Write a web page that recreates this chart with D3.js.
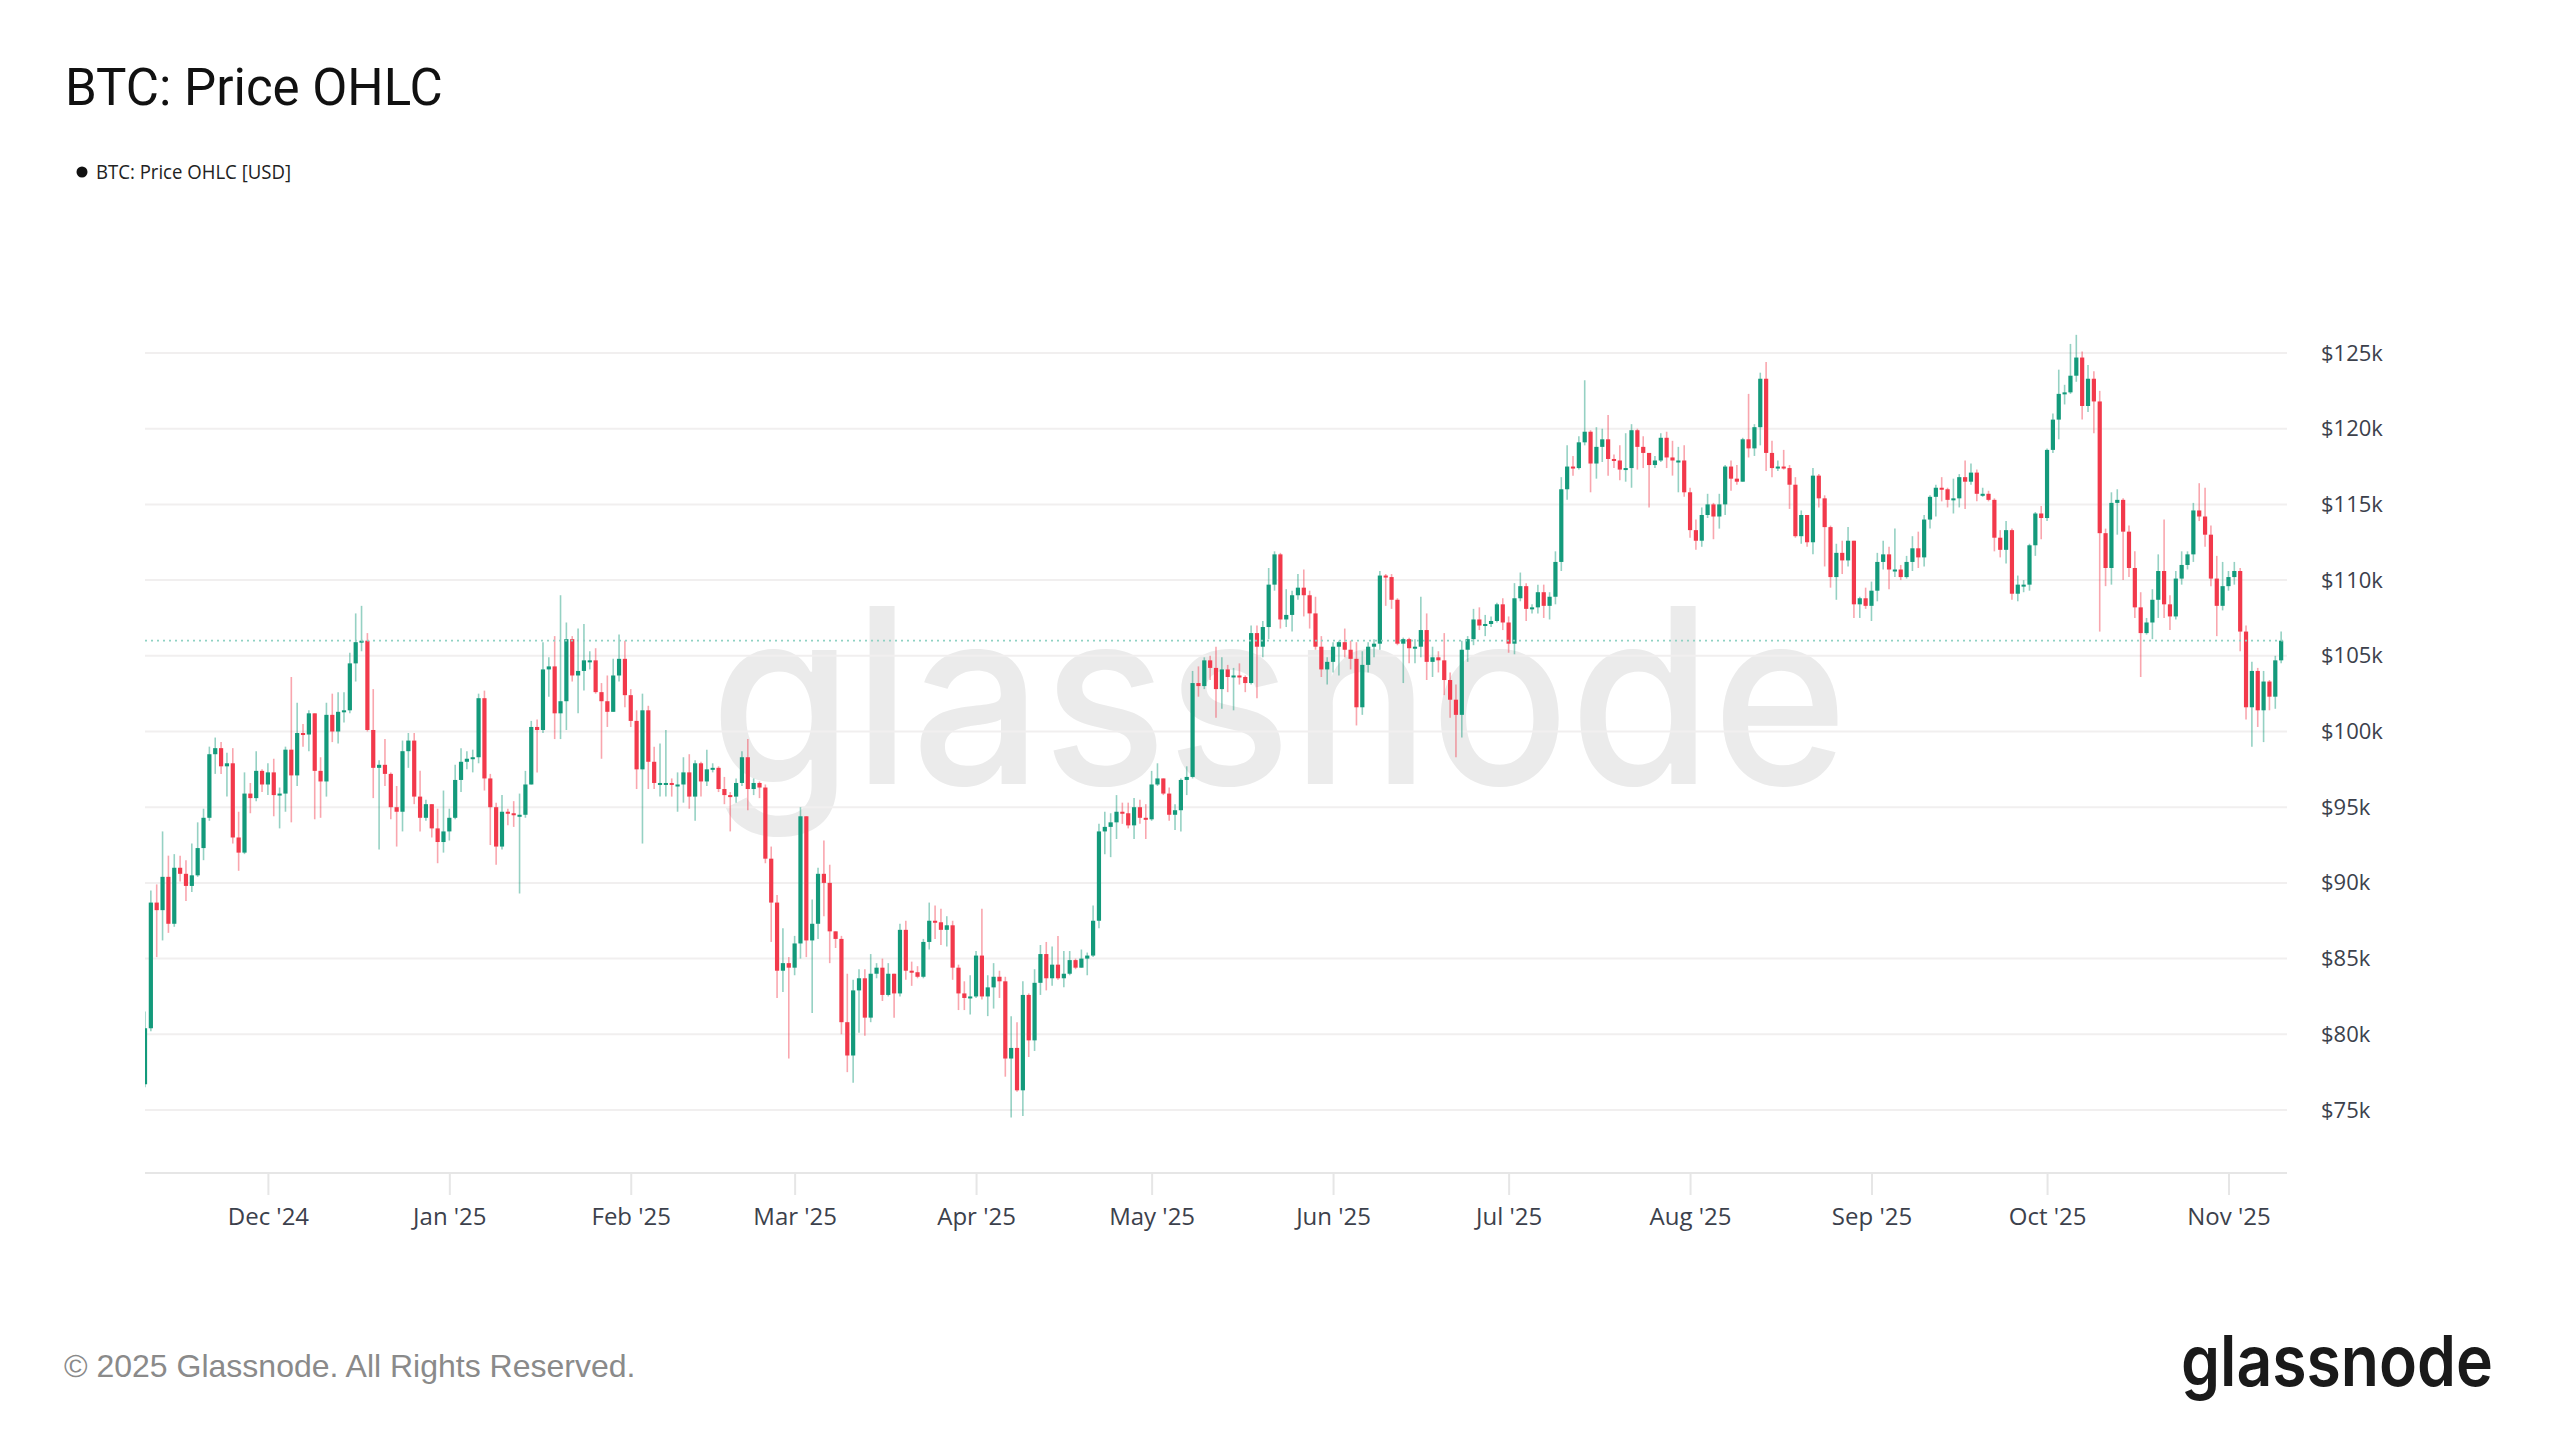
<!DOCTYPE html>
<html><head><meta charset="utf-8">
<script src="https://cdn.jsdelivr.net/npm/d3@7"></script>
<style>html,body{margin:0;padding:0;background:#fff;} svg{display:block;}</style>
</head><body>
<script>
// ---------- DATA (BTC daily OHLC, thousands of USD) ----------
const firstDay = "2024-11-10";
const opens = [76.7,
80.4,88.7,88.2,90.4,87.3,91.0,90.6,89.8,90.5,92.3,94.3,98.5,98.9,97.7,97.9,93.0,92.0,95.9,95.6,97.4,96.5,
97.3,95.8,95.9,98.8,97.1,99.9,99.8,101.2,97.4,96.7,101.1,100.0,101.3,101.4,104.5,105.9,106.0,100.1,97.6,97.8,97.2,95.0,94.7,98.7,99.4,95.7,94.3,95.2,93.6,92.7,93.4,
94.3,96.8,98.0,98.2,98.3,102.2,96.9,95.0,92.4,94.7,94.6,94.5,94.5,96.5,100.3,100.1,104.1,104.3,101.2,102.0,106.1,103.7,104.0,104.7,104.7,102.6,102.0,101.3,103.7,104.8,102.4,
100.7,97.5,101.4,98.0,96.6,96.6,96.6,96.5,96.5,97.3,95.7,97.9,96.7,97.5,97.6,96.2,95.8,95.7,96.6,98.3,96.2,96.6,96.3,91.6,88.7,84.2,84.7,84.4,
86.0,94.4,86.2,87.3,90.6,90.0,86.8,86.3,80.8,78.6,82.9,83.7,81.1,84.0,84.4,82.6,84.0,82.7,86.9,84.2,84.1,83.8,86.1,87.5,87.4,86.9,87.2,84.4,82.7,82.4,82.5,
85.2,82.5,83.1,83.8,83.5,78.4,79.1,76.3,82.6,79.6,83.4,85.3,83.7,84.6,83.7,84.0,84.9,84.4,85.0,85.2,87.5,93.4,93.7,94.0,94.7,94.6,93.8,95.0,94.3,94.2,
96.5,96.9,95.9,94.5,94.8,96.8,97.0,103.2,103.0,104.7,104.2,102.8,104.1,103.6,103.7,103.6,103.2,106.5,105.6,106.9,109.7,111.7,107.4,107.7,109.0,109.5,109.0,107.8,105.6,104.1,104.6,
105.6,105.9,105.4,104.8,101.6,104.4,105.6,105.8,110.3,110.2,108.7,105.8,106.1,105.5,105.6,106.7,104.6,104.9,104.7,103.4,102.1,101.1,105.4,106.1,107.4,107.0,107.1,107.3,108.4,107.2,
105.8,108.8,109.6,108.1,108.2,109.2,108.3,108.9,111.2,116.0,117.5,117.4,119.1,119.8,117.7,118.8,119.3,118.0,117.9,117.3,117.4,119.9,118.8,118.4,117.6,117.9,119.4,118.1,117.9,117.9,115.8,
113.3,112.6,114.3,115.0,114.2,115.0,117.5,116.7,116.5,119.3,118.7,120.1,123.3,118.4,117.4,117.5,117.4,116.3,112.9,114.3,112.5,116.9,115.4,113.5,110.2,111.8,111.3,112.6,108.4,108.8,108.3,
109.3,111.2,111.7,110.7,110.7,110.2,111.2,112.1,111.5,114.0,115.5,116.1,116.0,115.3,115.4,116.8,116.5,117.1,115.7,115.7,115.3,112.8,112.0,113.3,109.1,109.7,109.7,112.3,114.4,114.1,
118.6,120.6,122.3,122.4,123.5,124.7,121.5,123.3,121.8,113.1,110.8,115.1,115.3,113.2,110.8,108.2,106.5,107.2,108.7,110.6,108.4,107.6,110.1,111.0,111.7,114.6,114.2,113.0,110.1,108.3,109.6,
110.2,110.6,106.6,101.6,104.0,101.4,103.3,102.3,104.7];

const highs = [
81.5,89.5,89.9,93.4,91.8,91.9,91.8,91.5,92.6,94.0,94.9,99.0,99.6,99.3,98.6,98.9,94.7,97.3,96.6,98.7,97.5,
97.9,98.2,96.3,99.0,103.6,101.9,100.5,101.4,101.2,98.3,101.9,102.5,102.6,102.6,105.2,107.8,108.3,106.5,102.8,98.1,99.5,97.3,96.4,99.4,99.9,99.9,97.4,95.5,95.2,94.9,96.1,
94.9,97.8,98.9,98.7,98.8,102.5,102.7,97.2,95.3,95.8,94.9,95.4,95.9,97.4,100.7,100.8,105.9,104.9,106.3,109.0,107.2,106.3,106.8,107.1,105.3,105.5,103.2,103.7,104.8,106.4,106.0,
102.8,101.4,102.5,101.7,99.0,99.2,100.1,96.9,97.3,98.3,98.5,98.1,98.0,98.8,97.9,97.7,97.0,96.0,96.9,98.7,99.5,96.9,96.7,96.5,92.4,89.2,87.0,85.1,
86.5,95.0,94.4,88.9,91.0,92.8,91.2,86.8,86.5,84.0,83.6,84.3,84.3,85.3,84.7,85.0,84.7,84.0,87.3,87.5,84.8,84.5,86.3,88.7,88.5,88.3,87.8,87.5,84.6,83.5,83.9,
85.5,88.3,83.9,84.7,84.2,83.8,81.2,80.8,83.5,82.7,84.3,85.9,86.1,85.8,86.5,85.5,85.5,85.0,85.6,85.4,88.5,93.9,94.7,94.6,95.8,95.3,95.3,95.6,95.5,95.2,
97.4,97.9,96.9,96.3,95.2,96.9,97.7,104.0,104.3,104.9,105.0,105.6,104.9,104.4,104.2,104.5,103.7,107.0,107.0,107.3,110.8,111.9,111.8,109.4,109.3,110.4,110.7,109.3,108.9,106.3,104.9,
105.9,106.0,106.8,106.0,105.9,105.3,105.9,106.1,110.6,110.4,110.4,108.8,106.2,106.2,106.1,108.9,107.8,105.6,105.3,106.5,103.9,103.1,106.0,106.3,108.1,108.2,107.7,107.6,108.5,108.8,
107.6,109.8,110.5,109.8,108.4,109.7,109.7,109.2,111.9,116.8,118.9,118.2,119.5,123.2,119.9,120.1,120.0,120.9,118.3,118.9,119.7,120.3,120.0,119.5,118.4,118.2,119.7,119.8,119.2,118.8,118.9,
116.1,114.0,114.8,115.7,115.1,115.7,117.6,117.9,117.6,119.4,122.3,120.3,123.7,124.4,119.2,117.9,118.6,117.6,116.8,114.6,114.3,117.4,117.0,115.6,113.6,112.4,112.6,113.5,112.6,108.9,109.5,
109.9,111.8,112.6,112.2,113.4,111.0,111.6,112.9,113.2,114.3,115.6,116.3,116.8,116.1,116.7,117.0,117.9,117.7,117.3,116.1,115.9,115.4,113.3,113.9,113.4,110.3,110.0,112.4,114.5,114.9,
118.7,121.0,123.9,122.9,125.6,126.2,125.1,124.2,123.8,122.5,113.4,115.8,116.0,115.4,113.6,111.9,109.2,107.5,109.4,111.7,114.0,109.0,110.6,111.9,111.9,115.1,116.4,116.1,113.6,111.6,111.2,
110.6,111.2,110.8,107.0,104.6,104.2,104.0,103.4,105.0,106.6];

const lows = [
76.5,80.2,85.1,86.2,86.7,87.1,90.1,88.8,89.4,90.4,91.5,94.1,97.2,97.2,95.7,92.6,90.8,91.9,94.6,95.4,96.0,
95.8,94.4,93.6,94.7,94.0,96.4,99.0,98.7,94.2,94.3,95.7,99.3,99.2,100.6,101.2,103.3,105.3,100.0,95.6,92.2,96.4,94.2,92.4,93.4,97.6,95.2,93.4,94.1,93.0,91.3,92.0,
92.8,94.2,96.0,97.5,97.3,97.9,96.1,92.5,91.2,92.2,93.8,93.7,89.3,94.3,96.5,97.3,99.9,102.3,99.5,99.5,100.1,103.3,101.2,102.7,104.1,102.5,98.2,100.3,101.3,103.3,101.6,
100.3,96.2,92.6,96.2,96.2,95.7,95.7,95.7,94.7,95.3,94.9,94.1,95.7,96.4,97.3,96.0,95.2,93.4,95.3,96.4,94.8,95.8,95.6,91.3,86.1,82.4,82.8,78.4,
83.9,85.0,85.1,81.4,86.3,87.8,84.7,85.7,80.0,77.5,76.8,80.1,79.9,80.8,83.7,82.2,82.5,81.1,82.5,83.6,83.2,83.7,83.7,85.6,86.3,85.9,85.8,83.6,81.6,81.6,81.3,
82.4,82.3,81.2,81.7,82.4,77.2,74.5,76.2,74.6,78.5,78.9,82.6,82.9,83.2,83.6,83.1,83.9,84.3,84.4,83.9,85.1,87.0,91.9,91.7,92.9,93.9,93.6,92.9,93.9,92.9,
94.1,96.4,95.8,94.1,93.5,93.4,95.8,96.9,102.3,102.8,103.4,100.9,101.5,102.6,101.4,103.1,102.6,103.1,102.2,104.9,106.1,109.3,106.8,106.9,106.6,108.7,107.6,106.8,105.4,103.6,103.1,
103.9,103.7,104.9,104.1,100.4,101.1,103.9,104.9,105.4,108.3,108.1,105.7,103.2,104.5,104.5,104.9,103.4,103.6,103.9,102.4,100.9,98.3,99.6,104.6,105.7,106.7,106.3,106.9,107.2,106.7,
105.2,105.1,108.6,107.3,107.8,107.8,107.5,107.4,108.4,110.6,115.3,116.9,117.3,118.9,115.8,116.7,117.8,116.9,117.4,116.6,116.5,116.1,117.3,117.4,114.8,117.4,117.8,117.4,116.9,115.8,115.5,
112.8,112.0,112.2,114.1,112.7,113.4,114.3,115.9,116.3,116.5,118.1,118.2,118.9,117.2,116.8,117.2,117.3,114.7,112.8,112.4,112.2,111.7,114.8,110.9,109.5,108.7,110.4,110.9,107.5,107.5,108.1,
107.3,108.6,110.7,109.4,110.2,110.0,110.1,110.6,110.8,110.9,113.4,114.2,115.2,114.8,114.4,114.8,114.7,116.3,115.2,115.5,115.2,111.9,111.5,111.1,108.7,108.6,109.2,109.3,111.6,112.7,
113.9,118.4,119.3,121.6,122.3,123.1,120.6,121.1,119.7,106.6,109.6,109.7,113.0,110.0,110.2,107.5,103.6,106.4,106.1,107.5,107.5,106.7,107.4,109.7,110.7,111.2,113.9,112.2,109.6,106.3,108.0,
109.3,109.7,105.3,100.8,99.0,100.3,99.3,101.4,101.5,104.5];

const closes = [
80.4,88.7,88.2,90.4,87.3,91.0,90.6,89.8,90.5,92.3,94.3,98.5,98.9,97.7,97.9,93.0,92.0,95.9,95.6,97.4,96.5,
97.3,95.8,95.9,98.8,97.1,99.9,99.8,101.2,97.4,96.7,101.1,100.0,101.3,101.4,104.5,105.9,106.0,100.1,97.6,97.8,97.2,95.0,94.7,98.7,99.4,95.7,94.3,95.2,93.6,92.7,93.4,
94.3,96.8,98.0,98.2,98.3,102.2,96.9,95.0,92.4,94.7,94.6,94.5,94.5,96.5,100.3,100.1,104.1,104.3,101.2,102.0,106.1,103.7,104.0,104.7,104.7,102.6,102.0,101.3,103.7,104.8,102.4,
100.7,97.5,101.4,98.0,96.6,96.6,96.6,96.5,96.5,97.3,95.7,97.9,96.7,97.5,97.6,96.2,95.8,95.7,96.6,98.3,96.2,96.6,96.3,91.6,88.7,84.2,84.7,84.4,
86.0,94.4,86.2,87.3,90.6,90.0,86.8,86.3,80.8,78.6,82.9,83.7,81.1,84.0,84.4,82.6,84.0,82.7,86.9,84.2,84.1,83.8,86.1,87.5,87.4,86.9,87.2,84.4,82.7,82.4,82.5,
85.2,82.5,83.1,83.8,83.5,78.4,79.1,76.3,82.6,79.6,83.4,85.3,83.7,84.6,83.7,84.0,84.9,84.4,85.0,85.2,87.5,93.4,93.7,94.0,94.7,94.6,93.8,95.0,94.3,94.2,
96.5,96.9,95.9,94.5,94.8,96.8,97.0,103.2,103.0,104.7,104.2,102.8,104.1,103.6,103.7,103.6,103.2,106.5,105.6,106.9,109.7,111.7,107.4,107.7,109.0,109.5,109.0,107.8,105.6,104.1,104.6,
105.6,105.9,105.4,104.8,101.6,104.4,105.6,105.8,110.3,110.2,108.7,105.8,106.1,105.5,105.6,106.7,104.6,104.9,104.7,103.4,102.1,101.1,105.4,106.1,107.4,107.0,107.1,107.3,108.4,107.2,
105.8,108.8,109.6,108.1,108.2,109.2,108.3,108.9,111.2,116.0,117.5,117.4,119.1,119.8,117.7,118.8,119.3,118.0,117.9,117.3,117.4,119.9,118.8,118.4,117.6,117.9,119.4,118.1,117.9,117.9,115.8,
113.3,112.6,114.3,115.0,114.2,115.0,117.5,116.7,116.5,119.3,118.7,120.1,123.3,118.4,117.4,117.5,117.4,116.3,112.9,114.3,112.5,116.9,115.4,113.5,110.2,111.8,111.3,112.6,108.4,108.8,108.3,
109.3,111.2,111.7,110.7,110.7,110.2,111.2,112.1,111.5,114.0,115.5,116.1,116.0,115.3,115.4,116.8,116.5,117.1,115.7,115.7,115.3,112.8,112.0,113.3,109.1,109.7,109.7,112.3,114.4,114.1,
118.6,120.6,122.3,122.4,123.5,124.7,121.5,123.3,121.8,113.1,110.8,115.1,115.3,113.2,110.8,108.2,106.5,107.2,108.7,110.6,108.4,107.6,110.1,111.0,111.7,114.6,114.2,113.0,110.1,108.3,109.6,
110.2,110.6,106.6,101.6,104.0,101.4,103.3,102.3,104.7,106.0];

const monthTicks = ["2024-12-01","2025-01-01","2025-02-01","2025-03-01","2025-04-01","2025-05-01",
  "2025-06-01","2025-07-01","2025-08-01","2025-09-01","2025-10-01","2025-11-01"];
const monthTickLabels = ["Dec '24","Jan '25","Feb '25","Mar '25","Apr '25","May '25",
  "Jun '25","Jul '25","Aug '25","Sep '25","Oct '25","Nov '25"];
const priceTicks = [75,80,85,90,95,100,105,110,115,120,125];
const priceTickLabels = ["$75k","$80k","$85k","$90k","$95k","$100k","$105k","$110k","$115k","$120k","$125k"];

// ---------- LAYOUT ----------
const W = 2560, H = 1440;
const plot = {left: 145, right: 2287, top: 300, bottom: 1173};
const UP = "#139a7b", DOWN = "#f2394b";

const parse = d3.utcParse("%Y-%m-%d");
const start = parse(firstDay);
const candles = closes.map((c, i) => ({
  date: d3.utcDay.offset(start, i), o: opens[i], h: highs[i], l: lows[i], c: c
}));

const x = d3.scaleUtc()
  .domain([start, d3.utcDay.offset(start, closes.length)])
  .range([plot.left, plot.right]);
const y = d3.scaleLinear().domain([75, 125]).range([1110, 353]);

const svg = d3.select("body").append("svg")
  .attr("width", W).attr("height", H)
  .style("background", "#fff");

svg.append("defs").append("clipPath").attr("id", "plotclip")
  .append("rect").attr("x", plot.left).attr("y", plot.top)
  .attr("width", plot.right - plot.left).attr("height", plot.bottom - plot.top);

// Title
svg.append("text").attr("x", 65).attr("y", 105)
  .attr("font-family", "Roboto, 'Noto Sans', sans-serif").attr("font-size", 51)
  .attr("fill", "#111").text("BTC: Price OHLC");

// Legend
svg.append("circle").attr("cx", 82).attr("cy", 172).attr("r", 5.5).attr("fill", "#111");
svg.append("text").attr("x", 96).attr("y", 179)
  .attr("font-family", "'Open Sans', sans-serif").attr("font-size", 20)
  .attr("textLength", 195).attr("lengthAdjust", "spacingAndGlyphs")
  .attr("fill", "#222").text("BTC: Price OHLC [USD]");

// Watermark
svg.append("text").attr("x", 710).attr("y", 784)
  .attr("font-family", "Inter, 'Noto Sans', sans-serif").attr("font-size", 245)
  .attr("font-weight", 500)
  .attr("textLength", 1138).attr("lengthAdjust", "spacingAndGlyphs")
  .attr("fill", "#ebebeb").text("glassnode");

// Gridlines
svg.append("g").selectAll("line").data(priceTicks).join("line")
  .attr("x1", plot.left).attr("x2", plot.right)
  .attr("y1", d => y(d)).attr("y2", d => y(d))
  .attr("stroke", "#f1efef").attr("stroke-width", 2);

// Bottom axis
const xAxis = d3.axisBottom(x)
  .tickValues(monthTicks.map(parse))
  .tickFormat((d, i) => monthTickLabels[i])
  .tickSize(22).tickPadding(13);
const gx = svg.append("g").attr("transform", `translate(0,${plot.bottom})`).call(xAxis);
gx.select(".domain").attr("stroke", "#e6e6e6").attr("stroke-width", 2)
  .attr("d", `M${plot.left},0H${plot.right}`);
gx.selectAll(".tick line").attr("stroke", "#e6e6e6").attr("stroke-width", 2);
gx.selectAll(".tick text")
  .attr("font-family", "'Open Sans', sans-serif").attr("font-size", 24)
  .attr("fill", "#3c414c");

// Right axis
const yAxis = d3.axisRight(y)
  .tickValues(priceTicks)
  .tickFormat((d, i) => priceTickLabels[i])
  .tickSize(0).tickPadding(0);
const gy = svg.append("g").attr("transform", "translate(2321,0)").call(yAxis);
gy.select(".domain").remove();
gy.selectAll(".tick text")
  .attr("font-family", "'Open Sans', sans-serif").attr("font-size", 22)
  .attr("fill", "#3c414c");

// Candles
const gc = svg.append("g").attr("clip-path", "url(#plotclip)");
const bw = 4.2;
gc.append("g").selectAll("line").data(candles).join("line")
  .attr("x1", d => x(d.date)).attr("x2", d => x(d.date))
  .attr("y1", d => y(Math.max(d.h, d.o, d.c))).attr("y2", d => y(Math.min(d.l, d.o, d.c)))
  .attr("stroke", d => d.c >= d.o ? UP : DOWN)
  .attr("stroke-opacity", 0.45).attr("stroke-width", 1.6);
gc.append("g").selectAll("rect").data(candles).join("rect")
  .attr("x", d => x(d.date) - bw / 2).attr("width", bw)
  .attr("y", d => y(Math.max(d.o, d.c)))
  .attr("height", d => Math.max(2, Math.abs(y(d.o) - y(d.c))))
  .attr("fill", d => d.c >= d.o ? UP : DOWN);

// Last price dotted line
const last = closes[closes.length - 1];
svg.append("line").attr("x1", plot.left).attr("x2", plot.right)
  .attr("y1", y(last)).attr("y2", y(last))
  .attr("stroke", "#8fd2c3").attr("stroke-width", 1.6).attr("stroke-dasharray", "2,4");

// Footer
svg.append("text").attr("x", 64).attr("y", 1377)
  .attr("font-family", "'Liberation Sans', Arial, sans-serif").attr("font-size", 32)
  .attr("fill", "#8a8a8a").text("\u00A9 2025 Glassnode. All Rights Reserved.");
svg.append("text").attr("x", 2181).attr("y", 1386)
  .attr("font-family", "Inter, 'Noto Sans', sans-serif").attr("font-size", 70)
  .attr("font-weight", 600)
  .attr("textLength", 312).attr("lengthAdjust", "spacingAndGlyphs")
  .attr("fill", "#1a1a1a").text("glassnode");
</script>
</body></html>
